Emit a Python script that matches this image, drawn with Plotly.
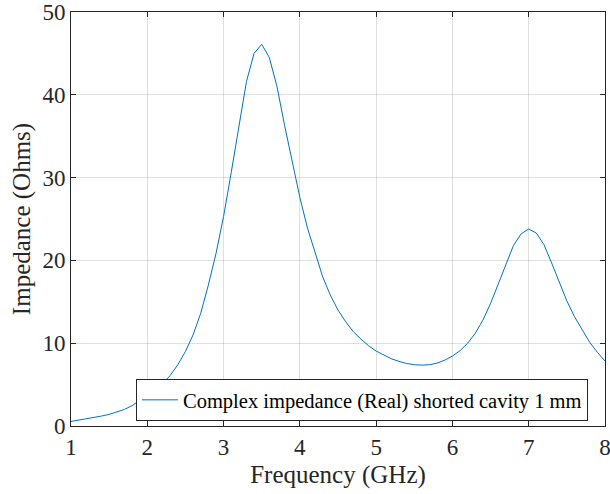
import plotly.graph_objects as go

# Frequency sweep (GHz) and real part of the input impedance (Ohms)
freq_ghz = [1.0, 1.1, 1.2, 1.3, 1.4, 1.5, 1.6, 1.7, 1.8, 1.9,
            2.0, 2.1, 2.2, 2.3, 2.4, 2.5, 2.6, 2.7, 2.8, 2.9,
            3.0, 3.1, 3.2, 3.3, 3.4, 3.5, 3.6, 3.7, 3.8, 3.9,
            4.0, 4.1, 4.2, 4.3, 4.4, 4.5, 4.6, 4.7, 4.8, 4.9,
            5.0, 5.1, 5.2, 5.3, 5.4, 5.5, 5.6, 5.7, 5.8, 5.9,
            6.0, 6.1, 6.2, 6.3, 6.4, 6.5, 6.6, 6.7, 6.8, 6.9,
            7.0, 7.1, 7.2, 7.3, 7.4, 7.5, 7.6, 7.7, 7.8, 7.9,
            8.0]
z_real = [0.55, 0.70, 0.85, 1.00, 1.20, 1.40, 1.70, 2.00, 2.45, 3.05,
          3.70, 4.40, 5.15, 6.10, 7.40, 9.00, 11.0, 13.6, 17.0, 20.8,
          25.3, 30.6, 36.3, 41.6, 45.0, 46.1, 44.5, 41.0, 36.3, 31.8,
          27.6, 23.9, 20.8, 18.0, 15.8, 14.0, 12.6, 11.4, 10.5, 9.70,
          9.05, 8.55, 8.12, 7.80, 7.55, 7.40, 7.35, 7.40, 7.60, 7.95,
          8.45, 9.10, 10.0, 11.2, 12.8, 14.8, 17.2, 19.6, 21.8, 23.2,
          23.8, 23.3, 21.9, 19.7, 17.3, 15.1, 13.2, 11.6, 10.1, 8.90,
          7.85]

series_name = "Complex impedance (Real) shorted cavity 1 mm"
x_ticks = [1, 2, 3, 4, 5, 6, 7, 8]
y_ticks = [0, 10, 20, 30, 40, 50]

axis_color = "#262626"
grid_color = "rgba(38,38,38,0.15)"
font_family = "Liberation Serif, Times New Roman, serif"

fig = go.Figure()
fig.add_trace(go.Scatter(
    x=freq_ghz, y=z_real, mode="lines", name=series_name,
    line=dict(color="#0072BD", width=1),
))

axis_common = dict(
    showline=True, linecolor=axis_color, linewidth=1, mirror="ticks",
    ticks="inside", ticklen=5, tickwidth=1, tickcolor=axis_color,
    showgrid=True, gridcolor=grid_color, gridwidth=1,
    zeroline=False, automargin=False, ticklabeloverflow="allow",
    tickfont=dict(family=font_family, size=23, color=axis_color),
)

fig.update_xaxes(
    range=[1, 8], tickvals=x_ticks, ticktext=[str(v) for v in x_ticks],
    title=dict(text="Frequency (GHz)",
               font=dict(family=font_family, size=25, color=axis_color),
               standoff=6),
    **axis_common,
)
fig.update_yaxes(
    range=[0, 50], tickvals=y_ticks, ticktext=[str(v) for v in y_ticks],
    title=dict(text="Impedance (Ohms)",
               font=dict(family=font_family, size=25, color=axis_color),
               standoff=4),
    **axis_common,
)

fig.update_layout(
    width=610, height=494,
    margin=dict(l=71, r=5, t=12, b=68),
    paper_bgcolor="white", plot_bgcolor="white",
    font=dict(family=font_family, color=axis_color),
    showlegend=True,
    legend=dict(
        x=0.1217, y=0.1135, xanchor="left", yanchor="top",
        bgcolor="white", bordercolor=axis_color, borderwidth=1,
        font=dict(family=font_family, size=20.5, color="black"),
        tracegroupgap=0, itemwidth=36,
    ),
)

fig.write_html("out.html")
